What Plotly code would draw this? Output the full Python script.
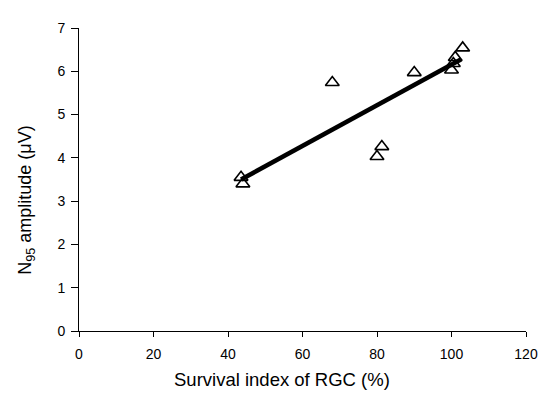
import plotly.graph_objects as go

# Data
survival_index = [43.5, 44.0, 68.0, 80.0, 81.3, 90.0, 100.0, 100.5, 101.0, 103.0]
n95_amplitude = [3.55, 3.40, 5.74, 4.03, 4.26, 5.97, 6.03, 6.18, 6.32, 6.54]

trend_x = [43.5, 102.5]
trend_y = [3.50, 6.27]

x_ticks = [0, 20, 40, 60, 80, 100, 120]
y_ticks = [0, 1, 2, 3, 4, 5, 6, 7]

x_title = "Survival index of RGC (%)"
y_title = "N<sub>95</sub> amplitude (μV)"

FONT = "Liberation Sans, Arial, sans-serif"

fig = go.Figure()
fig.add_trace(go.Scatter(
    x=survival_index, y=n95_amplitude, mode="markers",
    marker=dict(symbol="triangle-up-open", size=12, color="black",
                line=dict(width=1.6, color="black")),
    showlegend=False,
))
fig.add_trace(go.Scatter(
    x=trend_x, y=trend_y, mode="lines",
    line=dict(color="black", width=4.5),
    showlegend=False,
))

tick_font = dict(family=FONT, size=14, color="black")
fig.update_layout(
    width=547, height=395,
    margin=dict(l=71, r=29, t=17, b=72),
    paper_bgcolor="white", plot_bgcolor="white",
    font=dict(family=FONT, color="black"),
    xaxis=dict(
        range=[0, 120], tickvals=x_ticks, ticks="outside", ticklen=5,
        tickcolor="black", showline=True, linecolor="black", linewidth=1,
        showgrid=False, zeroline=False, tickfont=tick_font,
        ticklabelstandoff=5,
    ),
    yaxis=dict(
        range=[0, 7], tickvals=y_ticks, ticks="outside", ticklen=7,
        tickcolor="black", showline=True, linecolor="black", linewidth=1,
        showgrid=False, zeroline=False, tickfont=tick_font,
        ticklabelstandoff=3,
    ),
    annotations=[
        dict(text=x_title, xref="paper", yref="paper", x=0.455, y=-0.16,
             xanchor="center", yanchor="middle", showarrow=False,
             font=dict(family=FONT, size=18.5, color="black")),
        dict(text=y_title, xref="paper", yref="paper", x=-0.1163, y=0.43,
             xanchor="center", yanchor="middle", showarrow=False, textangle=-90,
             font=dict(family=FONT, size=18, color="black")),
    ],
)

fig.write_html("out.html")
